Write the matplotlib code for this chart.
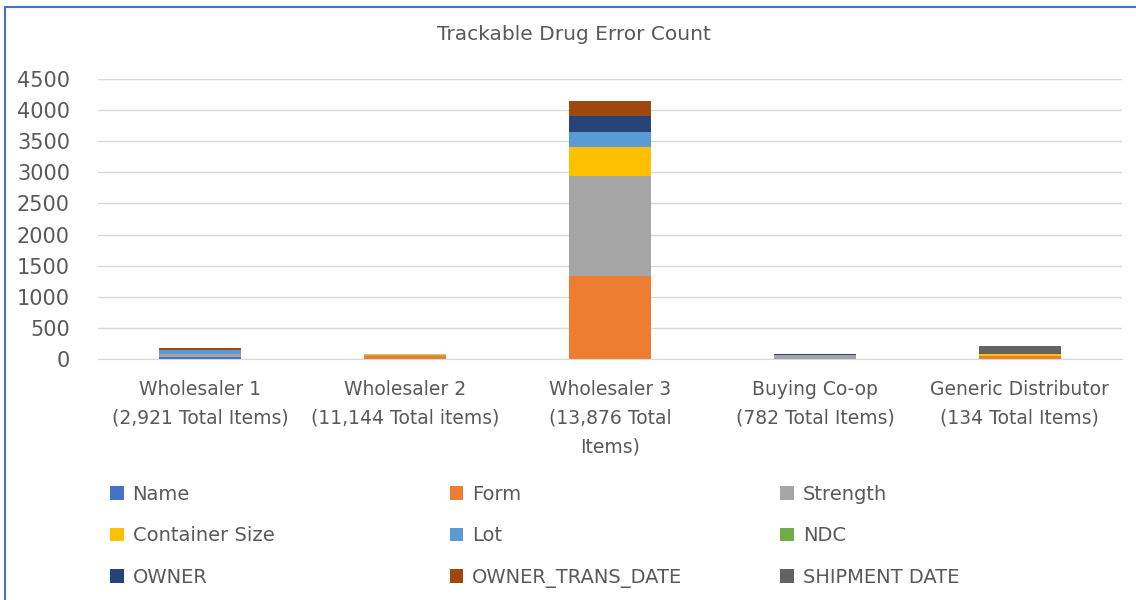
import matplotlib.pyplot as plt
from matplotlib.patches import Rectangle
import numpy as np

plt.rcParams['font.family'] = ['DejaVu Sans']

# categories and stacked series
categories = ["Wholesaler 1\n(2,921 Total Items)",
              "Wholesaler 2\n(11,144 Total items)",
              "Wholesaler 3\n(13,876 Total\nItems)",
              "Buying Co-op\n(782 Total Items)",
              "Generic Distributor\n(134 Total Items)"]
series_names = ["Name", "Form", "Strength", "Container Size", "Lot", "NDC",
                "OWNER", "OWNER_TRANS_DATE", "SHIPMENT DATE"]
name_vals = [30, 0, 0, 0, 0]
form_vals = [0, 40, 1340, 0, 50]
strength_vals = [50, 15, 1610, 55, 0]
container_vals = [0, 25, 455, 0, 30]
lot_vals = [60, 0, 250, 0, 0]
ndc_vals = [0, 0, 0, 0, 0]
owner_vals = [0, 0, 250, 25, 0]
owner_trans_vals = [40, 0, 245, 0, 0]
shipment_vals = [0, 0, 0, 0, 130]
series_vals = [name_vals, form_vals, strength_vals, container_vals, lot_vals,
               ndc_vals, owner_vals, owner_trans_vals, shipment_vals]
colors = ["#4472C4", "#ED7D31", "#A5A5A5", "#FFC000", "#5B9BD5", "#70AD47",
          "#264478", "#9E480E", "#636363"]

fig = plt.figure(figsize=(11.36, 6), dpi=100)
ax = fig.add_axes([0.086, 0.402, 0.902, 0.466])

x = np.arange(len(categories))
bottom = np.zeros(len(categories))
handles = []
for name, vals, c in zip(series_names, series_vals, colors):
    b = ax.bar(x, vals, 0.4, bottom=bottom, color=c, label=name, zorder=3)
    handles.append(b)
    bottom += np.array(vals)

ax.set_xlim(-0.5, len(categories) - 0.5)
ax.set_ylim(0, 4500)
ax.set_yticks(range(0, 4501, 500))
ax.grid(axis='y', color='#D9D9D9', linewidth=1, zorder=0)
for s in ['top', 'right', 'left']:
    ax.spines[s].set_visible(False)
ax.spines['bottom'].set_color('#D9D9D9')
ax.tick_params(length=0, colors='#595959')
ax.tick_params(axis='y', labelsize=15, pad=20)
ax.tick_params(axis='x', labelsize=13.5, pad=15)
ax.set_xticks(x)
ax.set_xticklabels(categories, linespacing=1.65)

fig.text(0.505, 0.943, "Trackable Drug Error Count", ha='center', va='center',
         fontsize=14.5, color='#595959')

# legend: three columns placed like the original
col_x = [0.097, 0.396, 0.687]
for j, cx in enumerate(col_x):
    idx = [j, j + 3, j + 6]
    leg = fig.legend([handles[i] for i in idx], [series_names[i] for i in idx],
                     loc='upper left', bbox_to_anchor=(cx, 0.192), frameon=False,
                     fontsize=14, labelcolor='#595959', handlelength=0.7,
                     handleheight=0.7, handletextpad=0.45, labelspacing=1.15,
                     borderaxespad=0, borderpad=0)

fig.patches.append(Rectangle((0.004, -0.01), 1.0, 0.998, transform=fig.transFigure,
                             fill=False, edgecolor='#4472C4', linewidth=1.5))

fig.savefig("out.png", dpi=100)
